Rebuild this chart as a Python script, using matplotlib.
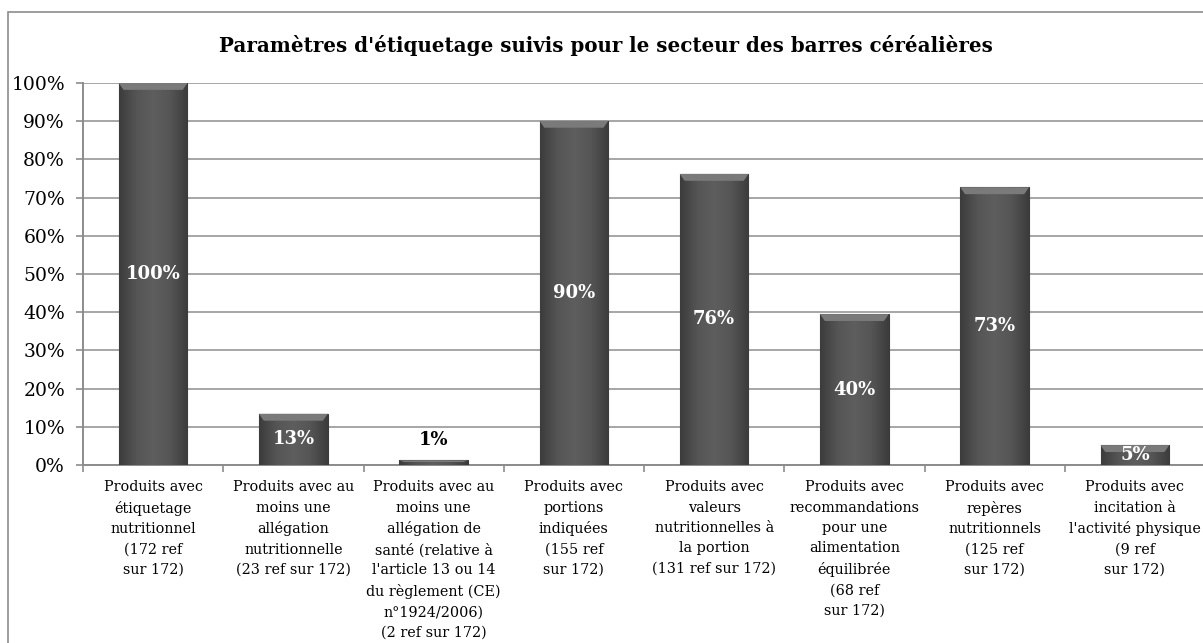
import matplotlib
matplotlib.use("Agg")
import matplotlib.pyplot as plt
import numpy as np
from matplotlib.patches import Rectangle
from matplotlib.colors import LinearSegmentedColormap

plt.rcParams['font.family'] = ['DejaVu Serif']

categories = [
    "Produits avec\nétiquetage\nnutritionnel\n(172 ref\nsur 172)",
    "Produits avec au\nmoins une\nallégation\nnutritionnelle\n(23 ref sur 172)",
    "Produits avec au\nmoins une\nallégation de\nsanté (relative à\nl'article 13 ou 14\ndu règlement (CE)\nn°1924/2006)\n(2 ref sur 172)",
    "Produits avec\nportions\nindiquées\n(155 ref\nsur 172)",
    "Produits avec\nvaleurs\nnutritionnelles à\nla portion\n(131 ref sur 172)",
    "Produits avec\nrecommandations\npour une\nalimentation\néquilibrée\n(68 ref\nsur 172)",
    "Produits avec\nrepères\nnutritionnels\n(125 ref\nsur 172)",
    "Produits avec\nincitation à\nl'activité physique\n(9 ref\nsur 172)",
]
values = [100.0, 13.4, 1.2, 90.1, 76.2, 39.5, 72.7, 5.2]
value_labels = ["100%", "13%", "1%", "90%", "76%", "40%", "73%", "5%"]
title = "Paramètres d'étiquetage suivis pour le secteur des barres céréalières"
yticks = [0, 10, 20, 30, 40, 50, 60, 70, 80, 90, 100]

W, H = 1203, 643
fig = plt.figure(figsize=(W / 100, H / 100), dpi=100)
left, right, top, bottom = 83, 1205, 83, 465
ax = fig.add_axes([left / W, 1 - bottom / H, (right - left) / W, (bottom - top) / H])

x = np.arange(len(values))
bars = ax.bar(x, values, width=0.49, color="#565656", edgecolor="#3a3a3a",
              linewidth=0.8, zorder=3)

# horizontal gradient overlay on each bar
grad = np.abs(np.linspace(-1, 1, 64))
grad = np.vstack([grad] * 2)
cmap = LinearSegmentedColormap.from_list("g", ["#5e5e5e", "#555555", "#3c3c3c"])
for b in bars:
    bx, bw, bh = b.get_x(), b.get_width(), b.get_height()
    im = ax.imshow(grad, extent=[bx, bx + bw, 0, bh], aspect="auto", cmap=cmap,
                   vmin=0, vmax=1, zorder=3.5, interpolation="bicubic")
    im.set_clip_path(b)
    bev = min(1.8, bh * 0.35)
    ax.add_patch(plt.Polygon([[bx, bh], [bx + bw, bh], [bx + bw * 0.93, bh - bev],
                              [bx + bw * 0.07, bh - bev]], closed=True,
                             facecolor="#7a7a7a", edgecolor="none", zorder=3.6))

ax.set_xlim(-0.5, len(values) - 0.5)
ax.set_ylim(0, 100)
ax.set_yticks(yticks)
ax.set_yticklabels([f"{t}%" for t in yticks], fontsize=13.5)
ax.yaxis.grid(True, color="#a6a6a6", linewidth=1.4, zorder=0)
ax.set_axisbelow(True)

ax.set_xticks(x)
ax.set_xticklabels(categories, fontsize=10.4, linespacing=1.57)
ax.tick_params(axis="x", which="major", length=0, pad=11)
ax.set_xticks(np.arange(-0.5, len(values)), minor=True)
ax.tick_params(axis="x", which="minor", length=5, color="#8c8c8c", width=1.2)
ax.tick_params(axis="y", length=5, color="#8c8c8c", width=1.2, pad=8)

for s in ["top", "right"]:
    ax.spines[s].set_visible(False)
for s in ["left", "bottom"]:
    ax.spines[s].set_color("#8c8c8c")
    ax.spines[s].set_linewidth(1.4)

for xi, v, lab in zip(x, values, value_labels):
    if v < 3:
        ax.text(xi, v + 3.0, lab, ha="center", va="bottom", fontsize=13,
                fontweight="bold", color="black", zorder=5)
    else:
        ax.text(xi, v / 2, lab, ha="center", va="center", fontsize=13,
                fontweight="bold", color="white", zorder=5)

fig.text(606 / W, 1 - 45 / H, title, ha="center", va="center", fontsize=14.3,
         fontweight="bold")

fig.patches.append(Rectangle((8 / W, 1 - 1200 / H), 1300 / W, (1200 - 12) / H,
                             transform=fig.transFigure, fill=False,
                             edgecolor="#8c8c8c", linewidth=1.2))

fig.savefig("out.png", dpi=100)
